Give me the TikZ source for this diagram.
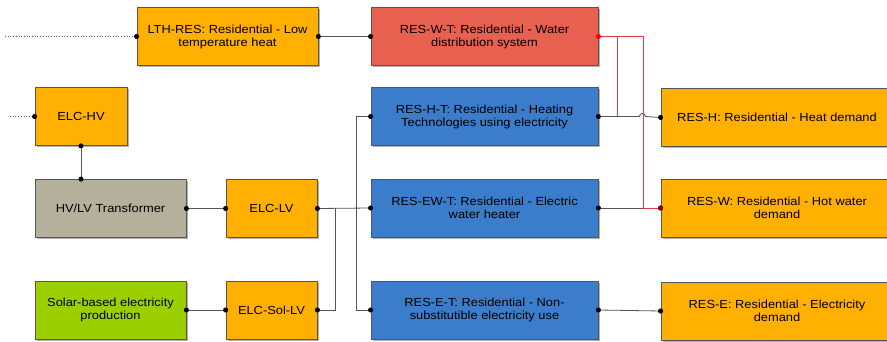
\documentclass[tikz,border=0pt]{standalone}
\usepackage{fontspec}
\setmainfont[FakeStretch=1.1]{Liberation Sans}
\usepackage{tikz}
\usetikzlibrary{positioning,shadows,arrows.meta,calc}
\definecolor{boxorange}{HTML}{FFB000}
\definecolor{boxred}{HTML}{E8604F}
\definecolor{boxblue}{HTML}{3B7DCB}
\definecolor{boxgray}{HTML}{B4B09C}
\definecolor{boxgreen}{HTML}{9BCF00}
\definecolor{wiregray}{HTML}{555555}
\definecolor{wirered}{HTML}{E23A46}
\tikzset{
	block/.style={draw=wiregray, line width=0.8pt, align=center, inner sep=2pt,
		minimum height=58pt, font=\fontsize{11.7}{13}\selectfont,
		drop shadow={shadow xshift=1.6pt, shadow yshift=-1.6pt, fill=black!50, opacity=0.6}},
	wire/.style={draw=wiregray, line width=0.8pt, shorten <=-2.5pt, shorten >=-2.5pt,
		{Circle[length=5pt,color=black]}-{Circle[length=5pt,color=black]}},
	hotwire/.style={draw=wirered, line width=0.8pt, shorten <=-2.5pt, shorten >=-2.5pt,
		{Circle[length=5pt,color=red]}-{Circle[length=5pt,color=red!60!black]}},
	feed/.style={draw=wiregray, line width=0.7pt, dotted, shorten >=-2.5pt, -{Circle[length=5pt,color=black]}}
}
\begin{document}
\begin{tikzpicture}[x=1pt,y=1pt]
				\useasboundingbox (0,0) rectangle (887,-342);
				\node[block, fill=boxorange, minimum width=181pt] (lth) at (227.5,-36.5) {LTH-RES: Residential - Low\\temperature heat};
				\node[block, fill=boxred, minimum width=227pt] (reswt) at (484.5,-36.5) {RES-W-T: Residential - Water\\distribution system};
				\node[block, fill=boxorange, minimum width=92pt] (elchv) at (81,-116.5) {ELC-HV};
				\node[block, fill=boxblue, minimum width=227pt] (resht) at (484.5,-116.5) {RES-H-T: Residential - Heating\\Technologies using electricity};
				\node[block, fill=boxorange, minimum width=232pt] (resh) at (777,-117.5) {RES-H: Residential - Heat demand};
				\node[block, fill=boxgray, minimum width=151pt] (trafo) at (110.5,-208.5) {HV/LV Transformer};
				\node[block, fill=boxorange, minimum width=91pt] (elclv) at (271.5,-208.5) {ELC-LV};
				\node[block, fill=boxblue, minimum width=227pt] (resewt) at (484.5,-208) {RES-EW-T: Residential - Electric\\water heater};
				\node[block, fill=boxorange, minimum width=232pt] (resw) at (777,-208) {RES-W: Residential - Hot water\\demand};
				\node[block, fill=boxgreen, minimum width=151pt] (solar) at (110.5,-310) {Solar-based electricity\\production};
				\node[block, fill=boxorange, minimum width=91pt] (elcsol) at (271.5,-310) {ELC-Sol-LV};
				\node[block, fill=boxblue, minimum width=227pt] (reset) at (484.5,-310) {RES-E-T: Residential - Non-\\substitutible electricity use};
				\node[block, fill=boxorange, minimum width=232pt] (rese) at (777,-311) {RES-E: Residential - Electricity\\demand};
				\coordinate (lthin) at (5,-36.5);
				\coordinate (hvin) at (10,-116.5);
				\coordinate (lvjoin) at (335,-208.5);
				\draw[feed] (lthin) -- (lth.west);
				\draw[feed] (hvin) -- (elchv.west);
				\draw[wire] (lth.east) -- (reswt.west);
				\draw[wire] (elchv.south) -- (elchv.south |- trafo.north);
				\draw[wire] (trafo.east) -- (elclv.west);
				\draw[wire] (solar.east) -- (elcsol.west);
				\draw[wire] (elclv.east) -- (resewt.west);
				\draw[wire, shorten >=0pt, {Circle[length=5pt,color=black]}-] (elcsol.east) -| (lvjoin);
				\draw[wire] (resht.west) -- ++(-14,0) |- (reset.west);
				\draw[wire] (resht.east) -- ++(41,0) arc[start angle=180, end angle=0, radius=3pt] -- (resh.west);
				\draw[wire] (resewt.east) -- (resw.west);
				\draw[wire] (reset.east) -- (rese.west);
				\coordinate (tap) at ($(reswt.east)+(19,0)$);
				\draw[hotwire, -, shorten <=0pt, shorten >=0pt] (tap) -- (tap |- resht.east);
				\draw[hotwire] (reswt.east) -- ++(45,0) |- (resw.west);
			\end{tikzpicture}
\end{document}
